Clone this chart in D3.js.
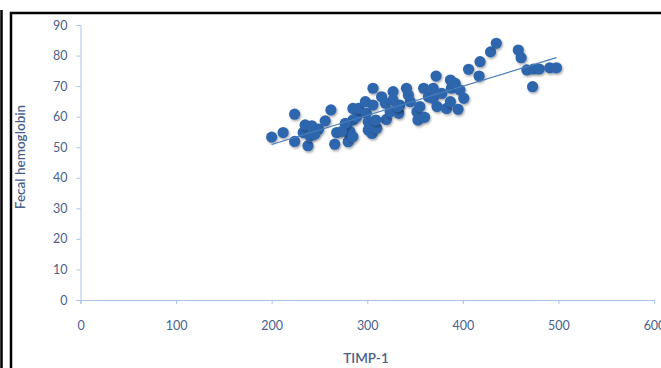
<!DOCTYPE html>
<html>
<head>
<meta charset="utf-8">
<script src="https://cdn.jsdelivr.net/npm/d3@7"></script>
<style>
  html, body { margin: 0; padding: 0; background: #fff; }
  svg { display: block; font-family: Lato, "Open Sans", sans-serif; }
</style>
</head>
<body>
<svg id="chart" width="661" height="368"></svg>
<script>
// TIMP-1 vs fecal hemoglobin
const timp = [
  200, 212, 224, 224, 233, 235, 242, 238, 240, 249, 256, 262, 245, 268, 266,
  278, 280, 280, 285, 285, 282, 289, 291, 298, 306, 299, 301, 301, 305, 310,
  306, 315, 319, 320, 324, 327, 327, 333, 334, 341, 343, 345, 352, 353, 355,
  359, 364, 360, 369, 369, 372, 373, 378, 383, 387, 388, 387, 392, 395, 397,
  401, 406, 417, 418, 429, 435, 458, 461, 467, 474, 480, 491, 498, 473, 277,
  273, 285, 309, 332
];
const fhb = [
  53.3, 54.8, 60.8, 51.9, 54.8, 57.3, 57.0, 50.5, 53.7, 55.9, 58.6, 62.2, 54.2, 54.8, 51.0,
  57.5, 54.9, 51.8, 62.7, 58.9, 55.1, 60.0, 62.7, 64.9, 69.3, 61.1, 58.3, 55.6, 54.5, 56.2,
  63.8, 66.5, 64.4, 59.1, 61.6, 68.2, 65.4, 61.1, 63.8, 69.3, 67.1, 64.9, 61.6, 58.9, 63.3,
  69.3, 66.5, 59.8, 69.3, 66.0, 73.3, 63.3, 67.6, 62.7, 72.0, 69.3, 64.9, 70.9, 62.4, 68.7,
  66.0, 75.5, 73.3, 78.0, 81.2, 84.0, 81.8, 79.3, 75.3, 75.6, 75.6, 76.0, 76.0, 69.8, 57.8,
  55.1, 53.4, 58.9, 63.3
];
const xTicks = [0, 100, 200, 300, 400, 500, 600];
const yTicks = [0, 10, 20, 30, 40, 50, 60, 70, 80, 90];

const svg = d3.select('#chart');
const axisCol = '#a9c3e6';
const textCol = '#4a5f8c';
const dotCol = '#2f66ad';

// frame lines like the clipped screenshot border
svg.append('line').attr('x1', 1.5).attr('x2', 1.5).attr('y1', 10).attr('y2', 368)
  .attr('stroke', '#000').attr('stroke-width', 2.5);
svg.append('line').attr('x1', 11).attr('x2', 11).attr('y1', 12).attr('y2', 368)
  .attr('stroke', '#000').attr('stroke-width', 2.5);
svg.append('line').attr('x1', 10).attr('x2', 661).attr('y1', 13).attr('y2', 13)
  .attr('stroke', '#000').attr('stroke-width', 2.5);

const x = d3.scaleLinear().domain([0, 600]).range([80.5, 654]);
const y = d3.scaleLinear().domain([0, 90]).range([300, 25]);

// axes
const gx = svg.append('g').attr('transform', `translate(0,${y(0)})`)
  .call(d3.axisBottom(x).tickValues(xTicks).tickSize(4).tickPadding(17));
const gy = svg.append('g').attr('transform', `translate(${x(0)},0)`)
  .call(d3.axisLeft(y).tickValues(yTicks).tickSize(4).tickPadding(9));
[gx, gy].forEach(g => {
  g.select('.domain').attr('stroke', axisCol);
  g.selectAll('.tick line').attr('stroke', axisCol);
  g.selectAll('.tick text').attr('fill', textCol).style('font-size', '12.5px')
    .style('font-family', 'Lato, "Open Sans", sans-serif');
});

// shadow for the markers
const defs = svg.append('defs');
const f = defs.append('filter').attr('id', 'sh').attr('x', '-50%').attr('y', '-50%')
  .attr('width', '200%').attr('height', '200%');
f.append('feDropShadow').attr('dx', 1).attr('dy', 1.5).attr('stdDeviation', 1.2)
  .attr('flood-color', '#000').attr('flood-opacity', 0.35);

const pts = timp.map((t, i) => ({ t, h: fhb[i] }));

svg.append('g').selectAll('circle')
  .data(pts)
  .join('circle')
  .attr('cx', d => x(d.t))
  .attr('cy', d => y(d.h))
  .attr('r', 5.6)
  .attr('fill', dotCol)
  .attr('filter', 'url(#sh)');

// linear trend line (least squares)
const mx = d3.mean(timp), my = d3.mean(fhb);
const slope = d3.sum(pts, d => (d.t - mx) * (d.h - my)) / d3.sum(pts, d => (d.t - mx) ** 2);
const icpt = my - slope * mx;
const ext = d3.extent(timp);
svg.append('line')
  .attr('x1', x(ext[0])).attr('y1', y(icpt + slope * ext[0]))
  .attr('x2', x(ext[1])).attr('y2', y(icpt + slope * ext[1]))
  .attr('stroke', '#4a7ebb').attr('stroke-width', 1.2);

// axis titles
svg.append('text').attr('x', 366).attr('y', 363).attr('text-anchor', 'middle')
  .attr('fill', textCol).style('font-size', '13.5px').style('font-weight', 600)
  .text('TIMP-1');
svg.append('text').attr('transform', 'translate(25,157) rotate(-90)')
  .attr('text-anchor', 'middle').attr('fill', textCol)
  .style('font-size', '13.5px').style('font-weight', 600)
  .text('Fecal hemoglobin');
</script>
</body>
</html>
